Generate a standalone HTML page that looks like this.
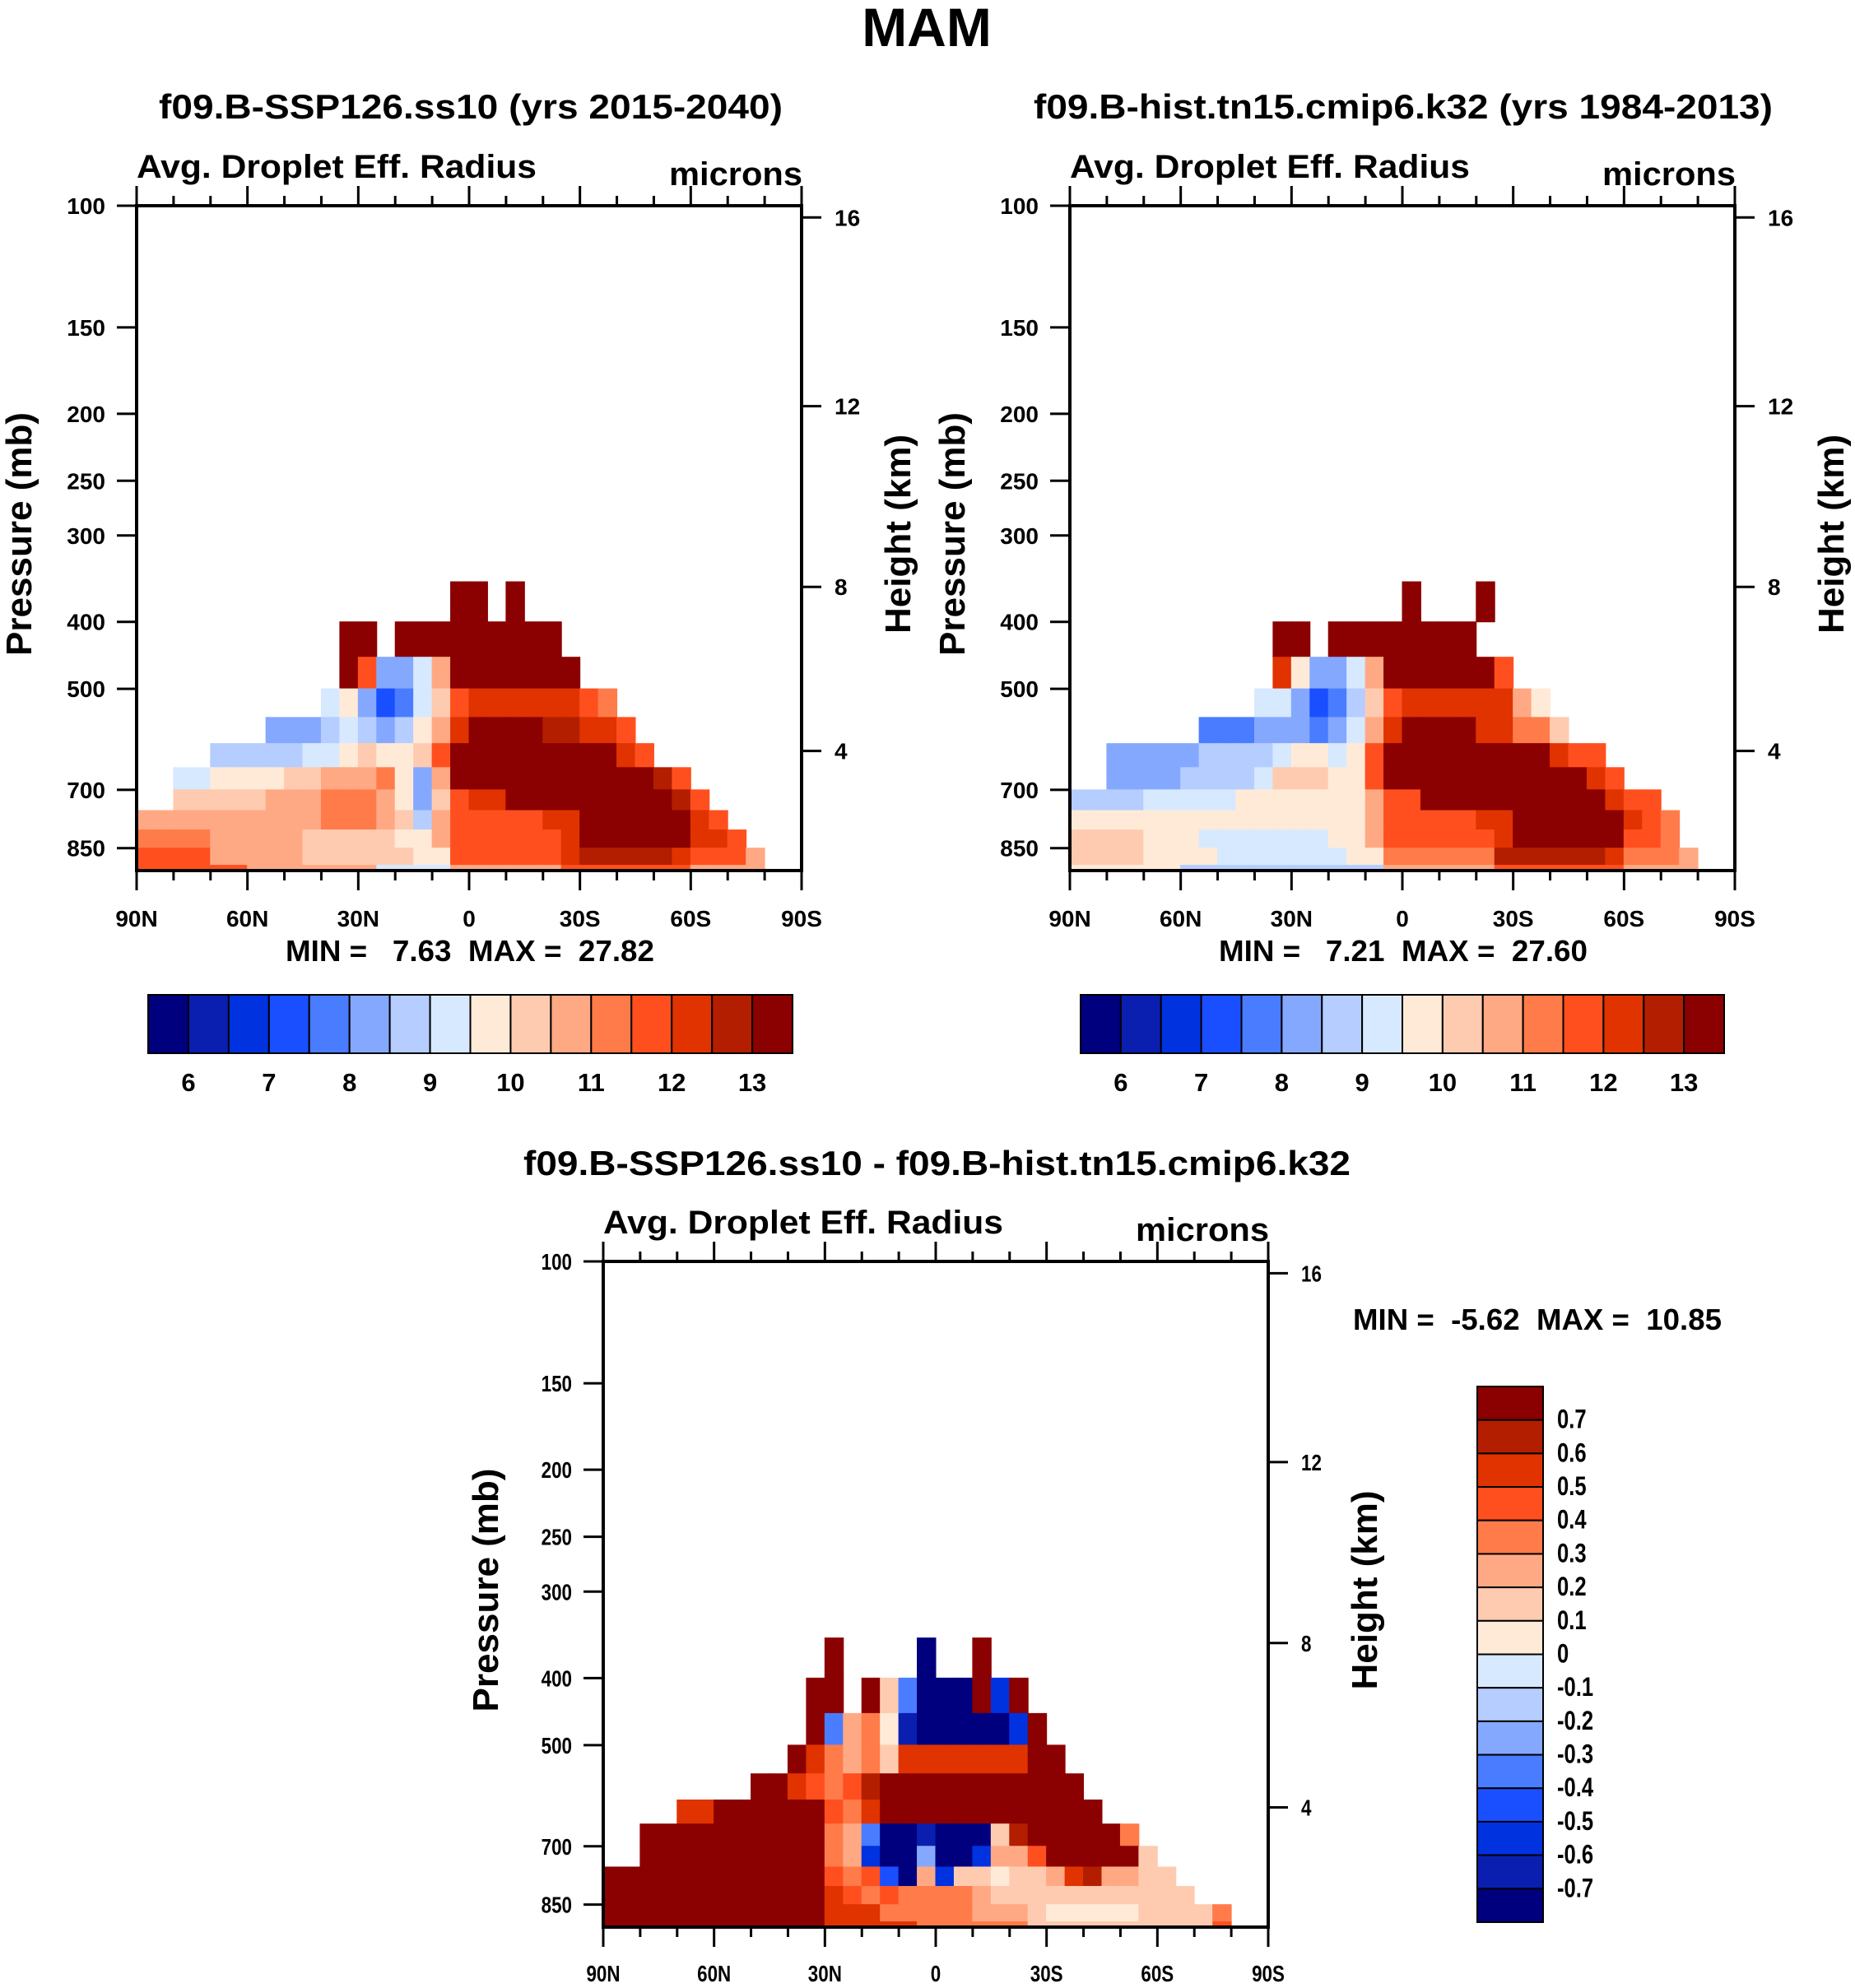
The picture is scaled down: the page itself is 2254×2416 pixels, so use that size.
<!DOCTYPE html>
<html><head><meta charset="utf-8"><style>
html,body{margin:0;padding:0;background:#fff;}
svg{display:block;font-family:"Liberation Sans",Arial,sans-serif;font-weight:bold;}
text{white-space:pre;}
</style></head><body>
<svg id="root" width="2254" height="2416" viewBox="0 0 2254 2416" xmlns="http://www.w3.org/2000/svg">
<text x="1126" y="56" font-size="66" text-anchor="middle">MAM</text>
</svg>
<script>
const _ = null;
// pressure row edges (mb) for data rows; latitude cells: 36 cells of 5 deg from 90N to 90S
const rowEdges = [350,400,450,500,550,600,650,700,750,800,850,900,920];
const pressureTicks = [100,150,200,250,300,400,500,700,850];
const heightTickLabels = [16,12,8,4];
const heightTickP = [104,195,356,615];
const latTicks = [90,60,30,0,-30,-60,-90];
const latTickLabels = ["90N","60N","30N","0","30S","60S","90S"];
const levels1 = [6,6.5,7,7.5,8,8.5,9,9.5,10,10.5,11,11.5,12,12.5,13];
const levelLabels1 = [6,7,8,9,10,11,12,13];
const levels3 = [-0.7,-0.6,-0.5,-0.4,-0.3,-0.2,-0.1,0,0.1,0.2,0.3,0.4,0.5,0.6,0.7];
const levelLabels3 = ["0.7","0.6","0.5","0.4","0.3","0.2","0.1","0","-0.1","-0.2","-0.3","-0.4","-0.5","-0.6","-0.7"];
const palette = ["#00007e","#0a1fb0","#0032e0","#1a4fff","#4a7cff","#85a8ff","#b5cdff","#d7e9ff","#ffead8","#ffcbb0","#ffa984","#ff7b4a","#ff4f1f","#e03300","#b31e00","#8b0000"];

const field1 = [
[_,_,_,_,_,_,_,_,_,_,_,_,_,_,_,_,_,13.5,13.5,_,13.5,_,_,_,_,_,_,_,_,_,_,_,_,_,_,_],
[_,_,_,_,_,_,_,_,_,_,_,13.5,13.5,_,13.5,13.5,13.5,13.5,13.5,13.5,13.5,13.5,13.5,_,_,_,_,_,_,_,_,_,_,_,_,_],
[_,_,_,_,_,_,_,_,_,_,_,13.5,12,8.5,8.5,9.5,11,13.5,13.5,13.5,13.5,13.5,13.5,13.5,_,_,_,_,_,_,_,_,_,_,_,_],
[_,_,_,_,_,_,_,_,_,_,9.5,10,8.5,7.5,8,9.5,10.5,12,12.5,12.5,12.5,12.5,12.5,12.5,12,11.5,_,_,_,_,_,_,_,_,_,_],
[_,_,_,_,_,_,_,8.5,8.5,8.5,9,9.5,9,8.5,9,10,11,12.5,13.5,13.5,13.5,13.5,13,13,12.5,12.5,12,_,_,_,_,_,_,_,_,_],
[_,_,_,_,9,9,9,9,9,9.5,9.5,10,10.5,10,10,10.5,12,13.5,13.5,13.5,13.5,13.5,13.5,13.5,13.5,13.5,12.5,12,_,_,_,_,_,_,_,_],
[_,_,9.5,9.5,10,10,10,10,10.5,10.5,11,11,11,11.5,10,8.5,11,13.5,13.5,13.5,13.5,13.5,13.5,13.5,13.5,13.5,13.5,13.5,13,12,_,_,_,_,_,_],
[_,_,10.5,10.5,10.5,10.5,10.5,11,11,11,11.5,11.5,11.5,11,10,8.5,10.5,12,12.5,12.5,13.5,13.5,13.5,13.5,13.5,13.5,13.5,13.5,13.5,13,12,_,_,_,_,_],
[11,11,11,11,11,11,11,11,11,11,11.5,11.5,11.5,11,10.5,9,11,12,12,12,12,12,12.5,12.5,13.5,13.5,13.5,13.5,13.5,13.5,12.5,12,_,_,_,_],
[11.5,11.5,11.5,11.5,11,11,11,11,11,10.5,10.5,10.5,10.5,10.5,10,10,11,12,12,12,12,12,12,12.5,13.5,13.5,13.5,13.5,13.5,13.5,12.5,12.5,12,_,_,_],
[12,12,12,12,11,11,11,11,11,10.5,10.5,10.5,10.5,10.5,10.5,10,10,12,12,12,12,12,12,12.5,13,13,13,13,13,12.5,12,12,12,11,_,_],
[12,12,12,12,12,12,11,11,11,11,11,11,11,9.5,9.5,9.5,9.5,11,11,11,11,11,11,12,12,12,12,12,12,12,11,11,11,11,_,_]
];
const field2 = [
[_,_,_,_,_,_,_,_,_,_,_,_,_,_,_,_,_,_,13.5,_,_,_,13.5,_,_,_,_,_,_,_,_,_,_,_,_,_],
[_,_,_,_,_,_,_,_,_,_,_,13.5,13.5,_,13.5,13.5,13.5,13.5,13.5,13.5,13.5,13.5,_,_,_,_,_,_,_,_,_,_,_,_,_,_],
[_,_,_,_,_,_,_,_,_,_,_,12.5,10,8.5,8.5,9.5,11,13.5,13.5,13.5,13.5,13.5,13.5,12,_,_,_,_,_,_,_,_,_,_,_,_],
[_,_,_,_,_,_,_,_,_,_,9.5,9.5,8.5,7.5,8,9,10.5,12,12.5,12.5,12.5,12.5,12.5,12.5,11,10,_,_,_,_,_,_,_,_,_,_],
[_,_,_,_,_,_,_,8,8,8,8.5,8.5,8.5,8,8.5,9.5,11,12.5,13.5,13.5,13.5,13.5,12.5,12.5,11.5,11.5,10.5,_,_,_,_,_,_,_,_,_],
[_,_,8.5,8.5,8.5,8.5,8.5,9,9,9,9,9.5,10,10,9.5,10,12,13.5,13.5,13.5,13.5,13.5,13.5,13.5,13.5,13.5,12.5,12,12,_,_,_,_,_,_,_],
[_,_,8.5,8.5,8.5,8.5,9,9,9,9,9.5,10.5,10.5,10.5,10,10,12,13.5,13.5,13.5,13.5,13.5,13.5,13.5,13.5,13.5,13.5,13.5,12.5,12,_,_,_,_,_,_],
[9,9,9,9,9.5,9.5,9.5,9.5,9.5,10,10,10,10,10,10,10,11,12,12,13.5,13.5,13.5,13.5,13.5,13.5,13.5,13.5,13.5,13.5,12.5,12,12,_,_,_,_],
[10,10,10,10,10,10,10,10,10,10,10,10,10,10,10,10,11,12,12,12,12,12,12.5,12.5,13.5,13.5,13.5,13.5,13.5,13.5,12.5,12,11.5,_,_,_],
[10.5,10.5,10.5,10.5,10,10,10,9.5,9.5,9.5,9.5,9.5,9.5,9.5,10,10,11,12,12,12,12,12,12,12.5,13.5,13.5,13.5,13.5,13.5,13.5,12,12,11.5,_,_,_],
[10.5,10.5,10.5,10.5,10,10,10,10,9.5,9.5,9.5,9.5,9.5,9.5,9.5,10,10,11.5,11.5,11.5,11.5,11.5,11.5,13,13,13,13,13,13,12.5,11.5,11.5,11.5,11,_,_],
[10,10,10,10,10,10,9,9,9,9,9,9,9,9,9,9,9,11,11,11,11,11,11,12,12,12,12,12,12,12,11,11,11,11,_,_]
];
const field3 = [
[_,_,_,_,_,_,_,_,_,_,_,_,1,_,_,_,_,-1,_,_,1,_,_,_,_,_,_,_,_,_,_,_,_,_,_,_],
[_,_,_,_,_,_,_,_,_,_,_,1,1,_,1,0.2,-0.3,-1,-1,-1,1,-0.5,1,_,_,_,_,_,_,_,_,_,_,_,_,_],
[_,_,_,_,_,_,_,_,_,_,_,1,-0.3,0.3,0.4,0.1,-0.6,-1,-1,-1,-1,-1,-0.5,1,_,_,_,_,_,_,_,_,_,_,_,_],
[_,_,_,_,_,_,_,_,_,_,1,0.6,0.4,0.3,0.4,0.2,0.6,0.6,0.6,0.6,0.6,0.6,0.6,1,1,_,_,_,_,_,_,_,_,_,_,_],
[_,_,_,_,_,_,_,_,1,1,0.6,0.5,0.4,0.5,0.7,1,1,1,1,1,1,1,1,1,1,1,_,_,_,_,_,_,_,_,_,_],
[_,_,_,_,0.6,0.6,1,1,1,1,1,1,0.5,0.4,0.6,1,1,1,1,1,1,1,1,1,1,1,1,_,_,_,_,_,_,_,_,_],
[_,_,1,1,1,1,1,1,1,1,1,1,0.4,0.3,-0.3,-1,-1,-0.6,-1,-1,-0.8,0.2,0.7,1,1,1,1,1,0.4,_,_,_,_,_,_,_],
[_,_,1,1,1,1,1,1,1,1,1,1,0.4,0.3,-0.5,-1,-1,-0.2,-1,-1,-0.5,0.3,0.3,0.5,1,1,1,1,0.8,0.2,_,_,_,_,_,_],
[1,1,1,1,1,1,1,1,1,1,1,1,0.5,0.4,0.5,-0.4,-0.8,0.3,-0.5,0.2,0.2,0.1,0.2,0.2,0.3,0.6,0.7,0.3,0.3,0.2,0.2,_,_,_,_,_],
[1,1,1,1,1,1,1,1,1,1,1,1,0.6,0.5,0.4,0.5,0.4,0.4,0.4,0.4,0.3,0.2,0.2,0.2,0.2,0.2,0.2,0.2,0.2,0.2,0.2,0.2,_,_,_,_],
[1,1,1,1,1,1,1,1,1,1,1,1,0.6,0.6,0.6,0.4,0.4,0.4,0.4,0.4,0.3,0.3,0.3,0.2,0.1,0.1,0.1,0.1,0.1,0.2,0.2,0.2,0.2,0.4,_,_],
[1,1,1,1,1,1,1,1,1,1,1,1,0.6,0.6,0.6,0.6,0.6,0.4,0.4,0.4,0.4,0.4,0.4,0.2,0.2,0.2,0.2,0.2,0.2,0.2,0.2,0.2,0.2,0.5,_,_]
];

const NS = "http://www.w3.org/2000/svg";
const root = document.getElementById("root");
function el(tag, attrs, parent, txt) {
  const e = document.createElementNS(NS, tag);
  for (const k in attrs) e.setAttribute(k, attrs[k]);
  if (txt !== undefined) e.textContent = txt;
  (parent || root).appendChild(e);
  return e;
}
function colorIdx(v, lv) { let n = 0; for (const l of lv) if (v > l + 1e-9) n++; return n; }

function drawPlot(cfg) {
  const {L, R, T, B, field, levels, id, condensed} = cfg;
  const slope = (B - T) / (Math.log10(916) - 2);
  const yOf = p => T + (Math.log10(p) - 2) * slope;
  const xOf = lat => L + (90 - lat) / 180 * (R - L);
  const g = el("g", {});
  
  
  const clipId = id + "-clip";
  const cp = el("clipPath", {id: clipId}, g);
  el("rect", {x: L, y: T, width: R - L, height: B - T}, cp);
  const cells = el("g", {"clip-path": "url(#" + clipId + ")"}, g);
  
  
  field.forEach((row, i) => {
    const y0 = yOf(rowEdges[i]), y1 = yOf(rowEdges[i + 1]);
    row.forEach((v, j) => {
      if (v === null) return;
      const x0 = xOf(90 - 5 * j), x1 = xOf(85 - 5 * j);
      const r = el("rect", {x: x0 - 0.5, y: y0 - 0.5, width: x1 - x0 + 1, height: y1 - y0 + 1, fill: palette[colorIdx(v, levels)]}, cells);
      
      
    });
  });
  const frame = el("rect", {x: L, y: T, width: R - L, height: B - T, fill: "none", stroke: "#000", "stroke-width": 4}, g);
  
  
  const fs = 28;
  const cond = condensed ? 0.8 : 1;
  pressureTicks.forEach(p => {
    const y = yOf(p);
    el("line", {x1: L - 24, x2: L, y1: y, y2: y, stroke: "#000", "stroke-width": 3}, g);
    const t = el("text", {x: L - 38, y: y + 10, "font-size": fs, "text-anchor": "end", transform: condensed ? `translate(${(L-38)*(1-cond)},0) scale(${cond},1)` : ""}, g, String(p));
    
    
  });
  heightTickP.forEach((p, i) => {
    const y = yOf(p);
    el("line", {x1: R, x2: R + 24, y1: y, y2: y, stroke: "#000", "stroke-width": 3}, g);
    const t = el("text", {x: R + 40, y: y + 10, "font-size": fs, transform: condensed ? `translate(${(R+40)*(1-cond)},0) scale(${cond},1)` : ""}, g, String(heightTickLabels[i]));
    
    
  });
  for (let lat = 90; lat >= -90; lat -= 10) {
    const x = xOf(lat), major = lat % 30 === 0, len = major ? 24 : 12;
    el("line", {x1: x, x2: x, y1: T, y2: T - len, stroke: "#000", "stroke-width": 3}, g);
    el("line", {x1: x, x2: x, y1: B, y2: B + len, stroke: "#000", "stroke-width": 3}, g);
  }
  latTicks.forEach((lat, i) => {
    const x = xOf(lat);
    const t = el("text", {x: x, y: cfg.latY, "font-size": fs, "text-anchor": "middle", transform: condensed ? `translate(${x*(1-cond)},0) scale(${cond},1)` : ""}, g, latTickLabels[i]);
    
    
  });
  const cy = (T + B) / 2 - 5;
  const pt = el("text", {x: 0, y: 0, "font-size": 44, "text-anchor": "middle", transform: `translate(${L - 128},${cy}) rotate(-90)`}, g, "Pressure (mb)");
  
  
  const ht = el("text", {x: 0, y: 0, "font-size": 44, "text-anchor": "middle", transform: `translate(${R + 132},${cy}) rotate(-90)`}, g, "Height (km)");
  
  
  const a = el("text", {x: L, y: T - 34, "font-size": 40, textLength: 486, lengthAdjust: "spacingAndGlyphs"}, g, "Avg. Droplet Eff. Radius");
  
  
  const m = el("text", {x: R + 1, y: T - 25, "font-size": 40, "text-anchor": "end", textLength: 162, lengthAdjust: "spacingAndGlyphs"}, g, "microns");
  
  
}

function hColorbar(x0, x1, y0, y1, labelY) {
  const g = el("g", {});
  
  
  const w = (x1 - x0) / palette.length;
  palette.forEach((c, i) => {
    const r = el("rect", {x: x0 + i * w, y: y0, width: w, height: y1 - y0, fill: c, stroke: "#000", "stroke-width": 2}, g);
    
    
  });
  levels1.forEach((lv, i) => {
    if (!levelLabels1.includes(lv)) return;
    const t = el("text", {x: x0 + (i + 1) * w, y: labelY, "font-size": 31, "text-anchor": "middle"}, g, String(lv));
    
    
  });
}

function vColorbar(x0, x1, y0, y1) {
  const g = el("g", {});
  
  
  const h = (y1 - y0) / palette.length;
  palette.slice().reverse().forEach((c, i) => {
    const r = el("rect", {x: x0, y: y0 + i * h, width: x1 - x0, height: h, fill: c, stroke: "#000", "stroke-width": 2}, g);
    
    
  });
  levelLabels3.forEach((lb, i) => {
    const y = y0 + (i + 1) * h + 10;
    const x = x0 + 97;
    const t = el("text", {x: x, y: y, "font-size": 32, transform: `translate(${x*0.2},0) scale(0.8,1)`}, g, lb);
    
    
  });
}

function label(txt, x, y, fs, anchor, len, name) {
  const t = el("text", {x: x, y: y, "font-size": fs, "text-anchor": anchor, textLength: len, lengthAdjust: "spacingAndGlyphs"}, root, txt);
  
  
}

drawPlot({L: 166, R: 974, T: 250, B: 1058, field: field1, levels: levels1, id: "ssp126", latY: 1126});
drawPlot({L: 1300, R: 2108, T: 250, B: 1058, field: field2, levels: levels1, id: "hist", latY: 1126});
drawPlot({L: 733, R: 1541, T: 1533, B: 2342, field: field3, levels: levels3, id: "difference", latY: 2408, condensed: true});

label("f09.B-SSP126.ss10 (yrs 2015-2040)", 193, 144, 42, "start", 758, "panel1-title");
label("f09.B-hist.tn15.cmip6.k32 (yrs 1984-2013)", 1256, 144, 42, "start", 898, "panel2-title");
label("MIN =   7.63  MAX =  27.82", 347, 1168, 36, "start", 448, "panel1-min-max");
label("MIN =   7.21  MAX =  27.60", 1481, 1168, 36, "start", 448, "panel2-min-max");
label("f09.B-SSP126.ss10 - f09.B-hist.tn15.cmip6.k32", 636, 1428, 42, "start", 1005, "difference-title");
label("MIN =  -5.62  MAX =  10.85", 1644, 1616, 36, "start", 448, "difference-min-max");

hColorbar(180, 963, 1209, 1280, 1326);
hColorbar(1313, 2095, 1209, 1280, 1326);
vColorbar(1795, 1875, 1685, 2336);
</script>
</body></html>
